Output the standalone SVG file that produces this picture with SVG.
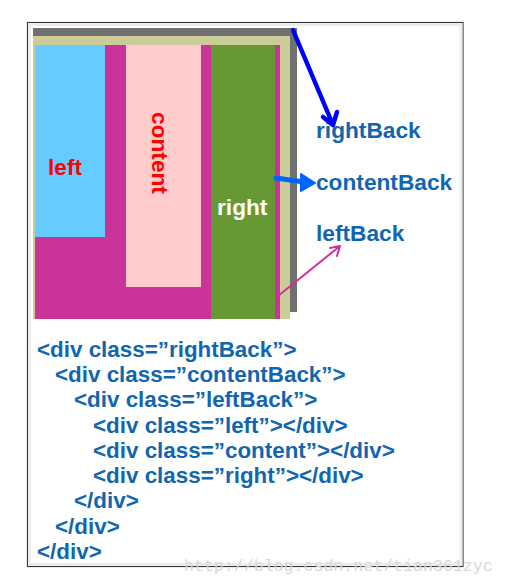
<svg xmlns="http://www.w3.org/2000/svg" width="505" height="585" viewBox="0 0 505 585">
<style>
.lbl{font-family:"Liberation Sans",Arial,sans-serif;font-weight:bold;font-size:22.7px}
.code{font-family:"Liberation Sans",Arial,sans-serif;font-weight:bold;font-size:22.4px;fill:#1266b0}
.wm{font-family:"Liberation Mono","Courier New",monospace;font-size:16.6px;fill:#d8d8d8}
</style>
<rect x="0" y="0" width="505" height="585" fill="#ffffff"/>
<g id="frame">
<rect x="27.5" y="22.5" width="435.5" height="544" fill="#ffffff" stroke="#3a3a3a" stroke-width="1.2"/>
<rect x="29.5" y="24.5" width="431.5" height="540" fill="none" stroke="#ececec" stroke-width="3"/>
</g>
<g id="rightBack">
<rect x="33" y="28" width="264" height="284" fill="#707070"/>
</g>
<g id="contentBack">
<rect x="33" y="36" width="257" height="283" fill="#cccc99"/>
</g>
<g id="leftBack">
<rect x="35" y="45" width="245" height="274" fill="#cc3399"/>
</g>
<g id="left">
<rect x="35" y="45" width="70" height="192" fill="#66ccff"/>
<text class="lbl" x="48" y="175" fill="#ff0000">left</text>
</g>
<g id="content">
<rect x="126" y="45" width="75" height="242" fill="#ffcccc"/>
<text class="lbl" transform="translate(152,112) rotate(90)" fill="#ff0000">content</text>
</g>
<g id="right">
<rect x="211" y="45" width="64" height="274" fill="#669933"/>
<text class="lbl" x="217" y="215" fill="#ffffff">right</text>
</g>
<g id="labels">
<text class="lbl" x="316" y="138" fill="#1266b0">rightBack</text>
<text class="lbl" x="316" y="190" fill="#1266b0">contentBack</text>
<text class="lbl" x="316" y="241" fill="#1266b0">leftBack</text>
</g>
<g id="connectors" fill="none" stroke-linecap="round" stroke-linejoin="round">
<path d="M293,30 L333,125 M323,117 L333,125 L337,112" stroke="#0000ff" stroke-width="4.5"/>
<path d="M276,178 L304,182" stroke="#0066ff" stroke-width="5"/>
<path d="M301,174 L315,183 L301,191 Z" fill="#0066ff" stroke="#0066ff" stroke-width="2"/>
<path d="M278,296 L340,246 M330,248 L340,246 L337,256" stroke="#cc3399" stroke-width="2"/>
</g>
<g id="code">
<text class="code" x="37" y="357">&lt;div class=”rightBack”&gt;</text>
<text class="code" x="55" y="382">&lt;div class=”contentBack”&gt;</text>
<text class="code" x="74" y="407">&lt;div class=”leftBack”&gt;</text>
<text class="code" x="93" y="433">&lt;div class=”left”&gt;&lt;/div&gt;</text>
<text class="code" x="93" y="458">&lt;div class=”content”&gt;&lt;/div&gt;</text>
<text class="code" x="93" y="483">&lt;div class=”right”&gt;&lt;/div&gt;</text>
<text class="code" x="74" y="508">&lt;/div&gt;</text>
<text class="code" x="55" y="534">&lt;/div&gt;</text>
<text class="code" x="37" y="559">&lt;/div&gt;</text>
</g>
<text class="wm" x="184" y="571">http://blog.csdn.net/tian361zyc</text>
</svg>
